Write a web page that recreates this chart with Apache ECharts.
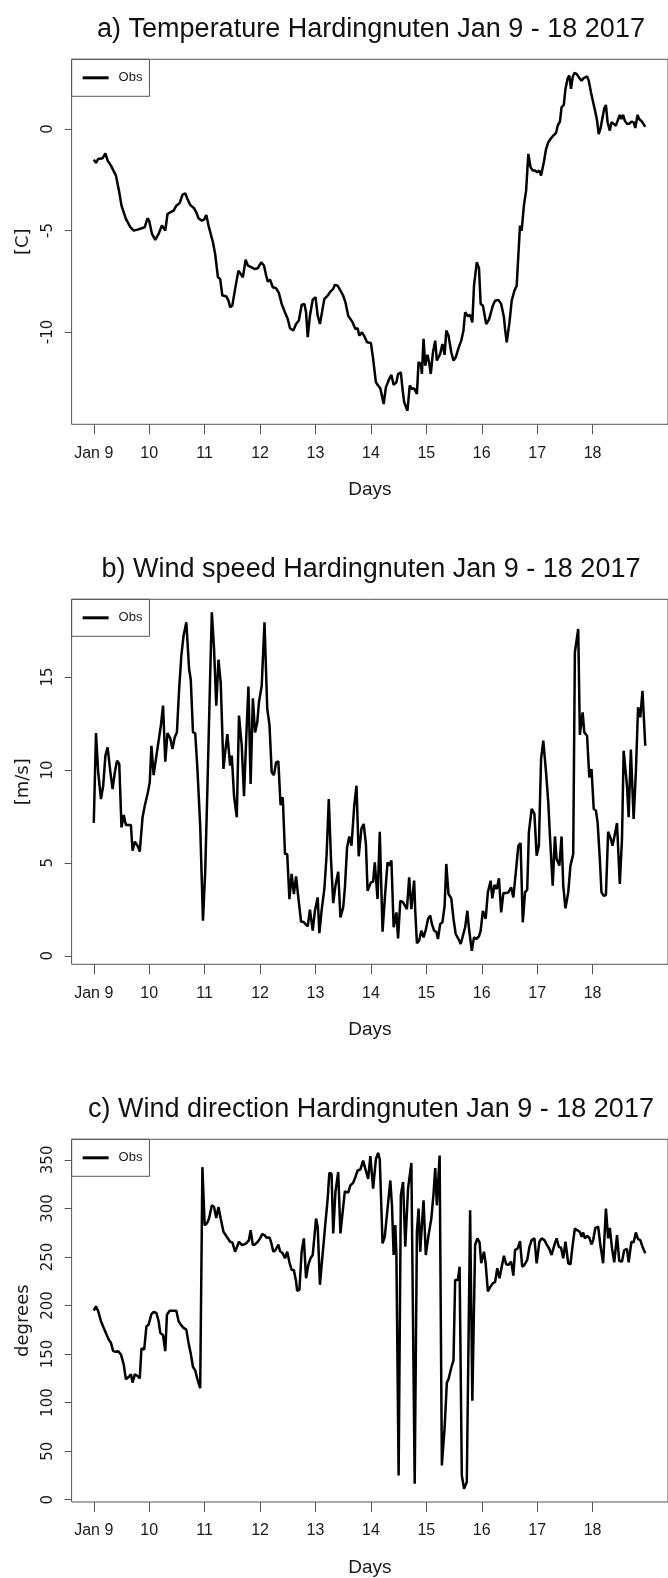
<!DOCTYPE html>
<html>
<head>
<meta charset="utf-8">
<script src="https://cdn.jsdelivr.net/npm/echarts@6/dist/echarts.min.js"></script>
<style>
html,body{margin:0;padding:0;background:#fff;}
#chart{width:668px;height:1578px;}
</style>
</head>
<body>
<div id="chart"></div>
<script>
// ---- data (x = days since Jan 9 00:00) ----
const xTickValues = [0,1,2,3,4,5,6,7,8,9];
const xTickLabels = ['Jan 9','10','11','12','13','14','15','16','17','18'];
const tempTicks = [-10,-5,0];
const windTicks = [0,5,10,15];
const dirTicks = [0,50,100,150,200,250,300,350];

const titles = [
  'a) Temperature Hardingnuten Jan 9 - 18 2017',
  'b) Wind speed Hardingnuten Jan 9 - 18 2017',
  'c) Wind direction Hardingnuten Jan 9 - 18 2017'
];
const yNames = ['[C]','[m/s]','degrees'];

const tempDays = [0.00,0.04,0.08,0.16,0.21,0.25,0.31,0.40,0.46,0.50,0.58,0.66,0.72,0.79,0.88,0.92,0.97,1.00,1.05,1.11,1.17,1.23,1.26,1.29,1.33,1.38,1.44,1.49,1.55,1.60,1.65,1.69,1.74,1.81,1.85,1.89,1.95,1.99,2.03,2.07,2.15,2.19,2.24,2.28,2.32,2.39,2.43,2.46,2.50,2.55,2.61,2.65,2.69,2.74,2.78,2.84,2.90,2.96,3.02,3.07,3.11,3.14,3.18,3.23,3.29,3.34,3.39,3.46,3.50,3.54,3.60,3.65,3.70,3.75,3.80,3.83,3.86,3.90,3.95,4.00,4.04,4.08,4.11,4.16,4.22,4.27,4.32,4.35,4.40,4.45,4.50,4.54,4.59,4.63,4.67,4.72,4.76,4.79,4.84,4.89,4.93,5.00,5.04,5.09,5.13,5.17,5.23,5.27,5.33,5.37,5.41,5.46,5.49,5.54,5.57,5.60,5.62,5.66,5.70,5.74,5.78,5.83,5.86,5.90,5.92,5.95,5.98,6.02,6.05,6.08,6.12,6.16,6.19,6.22,6.25,6.29,6.33,6.36,6.40,6.45,6.49,6.53,6.58,6.63,6.67,6.70,6.75,6.79,6.83,6.86,6.91,6.95,6.98,7.02,7.08,7.13,7.16,7.20,7.24,7.30,7.35,7.40,7.42,7.45,7.50,7.54,7.59,7.63,7.65,7.69,7.72,7.76,7.80,7.84,7.88,7.92,7.96,8.00,8.04,8.07,8.12,8.16,8.20,8.25,8.29,8.34,8.37,8.41,8.44,8.48,8.51,8.55,8.58,8.61,8.64,8.67,8.71,8.75,8.80,8.84,8.90,8.93,8.97,9.01,9.05,9.08,9.11,9.14,9.18,9.21,9.24,9.27,9.31,9.34,9.38,9.42,9.45,9.49,9.52,9.55,9.58,9.62,9.66,9.70,9.74,9.77,9.81,9.84,9.89,9.92,9.95];
const tempVals = [-1.51,-1.67,-1.48,-1.44,-1.20,-1.56,-1.81,-2.30,-3.12,-3.78,-4.43,-4.84,-5.01,-4.96,-4.88,-4.84,-4.40,-4.52,-5.17,-5.47,-5.17,-4.76,-4.68,-5.01,-4.19,-4.11,-4.02,-3.78,-3.65,-3.25,-3.17,-3.45,-3.74,-3.91,-4.11,-4.40,-4.52,-4.47,-4.24,-4.76,-5.58,-6.16,-7.31,-7.39,-8.21,-8.24,-8.46,-8.78,-8.70,-7.88,-6.98,-7.14,-7.31,-6.44,-6.73,-6.81,-6.90,-6.86,-6.57,-6.73,-7.22,-7.52,-7.42,-7.80,-7.85,-8.08,-8.62,-9.11,-9.36,-9.82,-9.93,-9.61,-9.44,-8.67,-8.62,-9.03,-10.26,-9.20,-8.41,-8.29,-9.20,-9.61,-9.53,-8.37,-8.21,-8.01,-7.88,-7.68,-7.72,-7.96,-8.21,-8.54,-9.20,-9.36,-9.53,-9.85,-9.82,-10.18,-10.02,-10.26,-10.51,-10.54,-11.33,-12.48,-12.64,-12.78,-13.55,-12.73,-12.32,-12.12,-12.61,-12.48,-12.07,-11.99,-12.81,-13.46,-13.50,-13.88,-12.64,-12.81,-12.78,-13.05,-11.49,-11.58,-12.07,-10.34,-11.66,-11.13,-11.49,-12.07,-11.00,-10.43,-11.41,-11.46,-11.08,-10.59,-11.13,-9.93,-10.18,-11.00,-11.41,-11.25,-10.80,-10.43,-9.93,-9.03,-9.23,-9.16,-9.53,-7.72,-6.57,-6.86,-8.62,-8.70,-9.61,-9.39,-9.33,-8.70,-8.46,-8.42,-8.62,-9.28,-9.85,-10.51,-9.53,-8.46,-7.96,-7.72,-6.73,-4.76,-5.01,-3.78,-3.04,-1.23,-1.89,-2.05,-2.05,-2.13,-2.05,-2.30,-1.64,-0.99,-0.66,-0.46,-0.33,-0.20,0.16,0.36,1.07,1.18,1.97,2.50,2.63,1.97,2.55,2.76,2.71,2.55,2.38,2.50,2.59,2.38,1.81,1.31,0.82,0.41,-0.25,0.00,0.57,1.02,1.18,0.33,-0.08,0.33,0.25,0.16,0.25,0.69,0.49,0.69,0.41,0.25,0.25,0.36,0.33,0.05,0.69,0.49,0.36,0.30,0.11];

const windDays = [0.00,0.04,0.08,0.13,0.17,0.21,0.25,0.30,0.34,0.38,0.42,0.46,0.50,0.54,0.58,0.62,0.67,0.70,0.74,0.79,0.83,0.88,0.92,0.97,1.01,1.04,1.08,1.13,1.17,1.21,1.25,1.29,1.33,1.38,1.42,1.46,1.50,1.54,1.58,1.62,1.67,1.72,1.75,1.79,1.83,1.87,1.92,1.97,2.01,2.05,2.10,2.13,2.17,2.21,2.25,2.29,2.34,2.37,2.41,2.46,2.49,2.53,2.58,2.62,2.67,2.71,2.75,2.79,2.83,2.87,2.91,2.95,2.98,3.03,3.08,3.13,3.17,3.21,3.25,3.29,3.33,3.37,3.41,3.45,3.49,3.53,3.57,3.61,3.65,3.69,3.74,3.78,3.82,3.86,3.90,3.95,3.99,4.04,4.07,4.11,4.16,4.20,4.24,4.28,4.32,4.36,4.41,4.45,4.50,4.53,4.57,4.61,4.65,4.70,4.74,4.78,4.83,4.87,4.91,4.94,5.00,5.04,5.07,5.12,5.16,5.21,5.25,5.30,5.33,5.37,5.41,5.46,5.49,5.53,5.58,5.61,5.65,5.69,5.73,5.78,5.80,5.83,5.87,5.91,5.95,5.99,6.03,6.07,6.10,6.14,6.18,6.21,6.25,6.29,6.33,6.36,6.40,6.45,6.49,6.53,6.58,6.62,6.65,6.70,6.74,6.77,6.82,6.86,6.90,6.95,6.98,7.02,7.07,7.11,7.16,7.19,7.23,7.27,7.31,7.35,7.39,7.44,7.48,7.53,7.57,7.62,7.66,7.70,7.74,7.78,7.82,7.85,7.90,7.95,7.99,8.03,8.07,8.11,8.16,8.20,8.23,8.28,8.32,8.35,8.40,8.44,8.47,8.51,8.56,8.60,8.65,8.68,8.74,8.77,8.82,8.85,8.90,8.94,8.98,9.02,9.06,9.09,9.13,9.16,9.20,9.24,9.28,9.32,9.36,9.39,9.44,9.49,9.53,9.56,9.62,9.65,9.69,9.74,9.78,9.82,9.86,9.90,9.95];
const windVals = [7.14,11.98,9.87,8.43,9.15,10.77,11.21,9.87,8.97,9.87,10.50,10.32,6.91,7.57,7.03,7.03,7.03,5.65,6.13,5.92,5.60,7.45,8.07,8.70,9.33,11.30,9.72,10.77,11.57,12.38,13.46,10.44,11.98,11.70,11.12,11.75,12.02,14.35,16.15,17.22,17.94,15.43,14.85,12.02,11.98,10.05,7.00,1.88,4.49,8.97,15.07,18.48,16.51,13.46,15.93,14.71,10.05,10.94,11.93,10.23,10.77,8.61,7.45,12.92,11.30,8.58,11.66,14.49,9.24,13.85,12.02,12.56,13.64,14.53,17.94,13.28,12.42,9.87,9.72,10.41,10.46,8.11,8.52,5.47,5.47,3.05,4.40,3.32,4.27,3.14,1.83,1.83,1.70,1.58,2.48,1.35,2.42,3.14,1.22,2.42,3.59,5.38,8.43,5.20,2.83,3.77,4.52,2.06,2.60,3.62,5.83,6.42,5.92,8.11,9.15,5.35,6.86,7.09,6.01,3.50,3.95,3.99,5.02,3.05,6.67,1.29,3.05,5.02,4.85,5.12,1.53,2.33,0.93,2.96,2.87,2.96,2.51,4.22,2.51,4.04,2.42,0.68,0.81,1.35,0.99,1.40,1.98,2.16,1.71,1.35,1.29,0.90,1.71,1.80,2.69,4.94,3.32,3.09,1.98,1.17,0.90,0.63,0.72,1.53,2.42,1.44,0.27,0.99,0.90,1.04,1.35,2.42,1.98,3.41,4.04,3.09,3.81,3.59,4.17,2.33,3.37,3.37,3.41,3.68,3.14,4.67,5.92,6.06,1.80,3.41,3.55,6.64,7.90,7.63,5.38,5.92,10.59,11.57,9.87,8.25,6.46,3.77,6.42,5.20,4.85,6.42,3.77,2.55,3.41,4.85,5.47,16.33,17.58,11.88,13.10,12.02,11.84,9.60,10.05,7.90,7.81,7.18,5.20,3.41,3.23,3.27,6.67,6.37,5.92,6.37,7.14,3.86,6.28,11.03,9.15,7.45,11.09,7.36,9.87,13.37,12.83,14.26,11.30];

const dirDays = [0.00,0.04,0.08,0.13,0.18,0.23,0.27,0.31,0.35,0.40,0.44,0.49,0.54,0.58,0.63,0.67,0.70,0.74,0.79,0.83,0.86,0.91,0.95,0.99,1.04,1.08,1.13,1.17,1.20,1.25,1.29,1.32,1.37,1.41,1.45,1.49,1.53,1.57,1.62,1.67,1.71,1.75,1.79,1.83,1.87,1.92,1.96,2.00,2.04,2.08,2.13,2.17,2.21,2.25,2.29,2.34,2.40,2.46,2.50,2.55,2.58,2.62,2.67,2.71,2.75,2.80,2.83,2.87,2.91,2.96,3.00,3.04,3.08,3.12,3.17,3.20,3.24,3.28,3.33,3.36,3.41,3.45,3.49,3.53,3.57,3.61,3.65,3.67,3.71,3.75,3.79,3.83,3.87,3.91,3.95,4.01,4.04,4.08,4.13,4.17,4.22,4.25,4.29,4.32,4.36,4.41,4.45,4.50,4.53,4.59,4.63,4.68,4.72,4.76,4.81,4.86,4.90,4.95,4.99,5.04,5.09,5.13,5.16,5.21,5.25,5.30,5.35,5.38,5.41,5.44,5.46,5.50,5.54,5.58,5.62,5.67,5.73,5.79,5.83,5.86,5.89,5.92,5.95,5.99,6.04,6.09,6.13,6.16,6.19,6.24,6.28,6.33,6.37,6.40,6.45,6.49,6.52,6.57,6.60,6.64,6.68,6.73,6.79,6.83,6.88,6.92,6.96,6.99,7.04,7.07,7.11,7.16,7.20,7.24,7.28,7.32,7.36,7.40,7.44,7.48,7.53,7.57,7.60,7.65,7.69,7.73,7.77,7.82,7.86,7.90,7.95,7.99,8.04,8.08,8.13,8.17,8.22,8.26,8.31,8.35,8.39,8.43,8.47,8.51,8.56,8.60,8.64,8.68,8.72,8.77,8.80,8.83,8.86,8.90,8.94,8.98,9.01,9.05,9.10,9.14,9.19,9.24,9.28,9.31,9.35,9.39,9.44,9.48,9.53,9.57,9.62,9.65,9.70,9.74,9.78,9.82,9.86,9.90,9.95];
const dirVals = [194.7,199.1,194.0,183.8,176.9,170.1,165.0,161.5,153.0,152.3,153.0,149.6,139.4,124.0,126.4,129.1,120.6,129.1,127.4,125.0,155.7,154.7,178.6,180.3,191.2,193.3,192.3,183.8,171.8,169.4,153.0,190.5,194.7,194.7,194.7,194.7,183.8,180.3,176.9,175.2,161.5,150.3,136.6,133.2,124.0,114.8,342.5,282.8,284.4,289.6,303.2,301.5,290.2,301.5,289.6,275.9,270.8,265.7,265.0,255.4,253.7,265.7,262.3,262.9,264.0,267.4,277.6,262.3,262.9,265.7,269.1,273.5,272.5,269.8,270.1,265.0,255.4,257.1,262.9,256.1,253.7,248.6,255.4,244.5,236.6,236.6,224.7,215.1,216.1,255.4,269.1,228.1,241.8,248.6,252.0,289.6,281.1,221.3,253.7,279.3,310.0,336.6,335.8,274.2,316.9,337.4,274.2,301.5,317.6,316.2,323.7,326.4,332.2,339.1,340.1,349.3,340.8,330.5,353.8,320.3,351.0,357.2,350.4,263.9,270.8,299.8,328.8,303.2,252.0,282.8,252.0,24.9,313.5,327.2,260.5,320.3,346.9,16.4,275.9,299.8,255.4,282.8,308.4,252.0,272.5,289.6,315.2,341.5,303.2,354.5,35.3,74.4,120.6,124.0,135.9,143.4,226.4,226.4,240.0,24.9,11.3,18.1,298.1,101.8,262.3,269.1,265.0,243.5,255.4,243.5,214.5,219.6,223.0,224.0,238.4,228.1,240.0,251.3,242.5,241.8,245.2,230.8,257.1,258.8,266.3,240.0,241.8,246.9,260.5,267.4,269.1,243.5,265.7,269.1,267.4,262.9,258.2,252.0,262.3,269.1,260.5,259.5,248.6,265.7,243.5,242.5,262.3,279.3,277.6,275.9,270.8,275.2,269.1,271.8,269.8,262.9,267.4,280.0,281.1,262.3,243.5,299.8,269.1,280.0,258.8,244.5,272.5,245.9,245.2,257.1,258.2,244.5,265.7,265.0,275.2,268.4,267.4,260.5,253.7];

// ---- layout ----
const PANEL_H = 540;
const GRID_LEFT = 71.6, GRID_TOP = 59.3, GRID_W = 601.5, GRID_H = 365;
const X_MIN = -0.4, X_MAX = 10.36;
const yRanges = [[-14.55, 3.43], [-0.46, 19.18], [-2.4, 371.2]];
const yTicks = [tempTicks, windTicks, dirTicks];
const seriesData = [
  tempDays.map((d, i) => [d, tempVals[i]]),
  windDays.map((d, i) => [d, windVals[i]]),
  dirDays.map((d, i) => [d, dirVals[i]])
];

const FONT = 'Liberation Sans, Arial, sans-serif';
const AXIS_COLOR = '#555';
const TEXT_COLOR = '#1a1a1a';

const grid = [], xAxis = [], yAxis = [], series = [], title = [], legend = [];
for (let i = 0; i < 3; i++) {
  const off = i * PANEL_H;
  grid.push({
    left: GRID_LEFT, top: GRID_TOP + off, width: GRID_W, height: GRID_H,
    show: true, borderColor: AXIS_COLOR, borderWidth: 1, backgroundColor: 'transparent'
  });
  xAxis.push({
    type: 'value', gridIndex: i, min: X_MIN, max: X_MAX, position: 'bottom',
    name: 'Days', nameLocation: 'middle', nameGap: 56,
    nameTextStyle: { fontFamily: FONT, fontSize: 19, color: TEXT_COLOR },
    axisLine: { show: false, onZero: false },
    splitLine: { show: false },
    axisTick: { show: true, inside: false, length: 10, customValues: xTickValues, lineStyle: { color: AXIS_COLOR } },
    axisLabel: {
      show: true, margin: 21, customValues: xTickValues,
      fontFamily: FONT, fontSize: 16, color: TEXT_COLOR,
      formatter: v => xTickLabels[xTickValues.indexOf(Math.round(v))]
    }
  });
  yAxis.push({
    type: 'value', gridIndex: i, min: yRanges[i][0], max: yRanges[i][1], position: 'left',
    name: yNames[i], nameLocation: 'middle', nameGap: 39, nameRotate: 90,
    nameTextStyle: { fontFamily: 'DejaVu Sans, sans-serif', fontSize: 18, color: TEXT_COLOR },
    axisLine: { show: false, onZero: false },
    splitLine: { show: false },
    axisTick: { show: true, length: 7, customValues: yTicks[i], lineStyle: { color: AXIS_COLOR } },
    axisLabel: {
      show: true, rotate: 90, margin: 16, customValues: yTicks[i],
      fontFamily: 'DejaVu Sans, sans-serif', fontSize: 15, color: TEXT_COLOR
    }
  });
  series.push({
    name: 'Obs', type: 'line', xAxisIndex: i, yAxisIndex: i,
    data: seriesData[i], showSymbol: false, symbol: 'none',
    lineStyle: { color: '#000', width: 2.5 }, itemStyle: { color: '#000' },
    animation: false
  });
  title.push({
    text: titles[i], left: 366, top: 11 + off, textAlign: 'center',
    textStyle: { fontFamily: FONT, fontSize: 27, fontWeight: 'normal', color: '#111' }
  });
  legend.push({
    data: ['Obs'], left: GRID_LEFT, top: GRID_TOP + off,
    padding: [11, 7, 11, 11], itemWidth: 26, itemHeight: 3, icon: 'rect',
    borderColor: AXIS_COLOR, borderWidth: 1, selectedMode: false,
    itemStyle: { color: '#000' },
    textStyle: { fontFamily: FONT, fontSize: 13, color: TEXT_COLOR, lineHeight: 15, padding: [0, 0, 0, 5] }
  });
}

const chart = echarts.init(document.getElementById('chart'), null, { renderer: 'canvas', width: 668, height: 1578 });
chart.setOption({
  animation: false,
  backgroundColor: '#fff',
  title, legend, grid, xAxis, yAxis, series
});
</script>
</body>
</html>
